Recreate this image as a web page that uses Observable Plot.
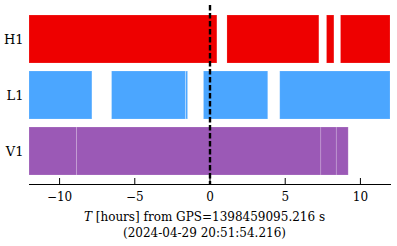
<!DOCTYPE html>
<html>
<head>
<meta charset="utf-8">
<script src="https://cdn.jsdelivr.net/npm/d3@7"></script>
<script src="https://cdn.jsdelivr.net/npm/@observablehq/plot@0.6"></script>
<style>
  body { margin: 0; background: white; }
  #cap { width: 397px; text-align: center; font-family: "DejaVu Serif", serif; font-size: 12px; line-height: 16px; padding-top: 4px; color: #000; padding-left: 12px; box-sizing: border-box; }
</style>
</head>
<body>
<div id="chart"></div>
<div id="cap"><i>T</i> [hours] from GPS=1398459095.216 s<br>(2024-04-29 20:51:54.216)</div>
<script>
const detectors = ["H1", "L1", "V1"];
const colors = ["#ee0000", "#4ba6ff", "#9b59b6"];
const h1Starts = [-12, 1.16, 7.78, 8.71];
const h1Ends   = [0.49, 7.27, 8.27, 12];
const l1Starts = [-12, -6.51, -1.58, -0.40, 4.67];
const l1Ends   = [-7.82, -1.60, -1.46, 3.87, 12];
const v1Starts = [-12, -8.84, 7.40, 8.43];
const v1Ends   = [-8.84, 7.40, 8.43, 9.22];
const xTicks = [-10, -5, 0, 5, 10];
const eventTime = [0];

const segs = [];
[[h1Starts, h1Ends], [l1Starts, l1Ends], [v1Starts, v1Ends]].forEach(([s, e], i) => {
  s.forEach((v, j) => segs.push({det: detectors[i], x1: v, x2: e[j]}));
});

const chart = Plot.plot({
  width: 397,
  height: 205,
  marginLeft: 29,
  marginRight: 7,
  marginTop: 5,
  marginBottom: 21,
  style: {fontFamily: "DejaVu Serif, serif", fontSize: "12px", color: "#000", background: "white"},
  x: {domain: [-12, 12]},
  y: {domain: detectors, padding: 0.15},
  color: {domain: detectors, range: colors},
  marks: [
    Plot.rectX(segs, {x1: "x1", x2: "x2", y: "det", fill: "det", stroke: "white", strokeOpacity: 0.2, strokeWidth: 0.8}),
    Plot.ruleX(eventTime, {stroke: "black", strokeWidth: 2.4, strokeDasharray: "5.5,2.5"}),
    Plot.frame({anchor: "bottom", stroke: "black", strokeWidth: 1}),
    Plot.ruleX(xTicks, {stroke: "black", strokeWidth: 1, insetTop: 173}),
    Plot.axisX({ticks: xTicks, tickSize: 0, tickPadding: 8, label: null, fill: "black"}),
    Plot.axisY({tickSize: 0, tickPadding: 6, label: null, fill: "black", fontSize: 13})
  ]
});
document.getElementById("chart").appendChild(chart);
</script>
</body>
</html>
